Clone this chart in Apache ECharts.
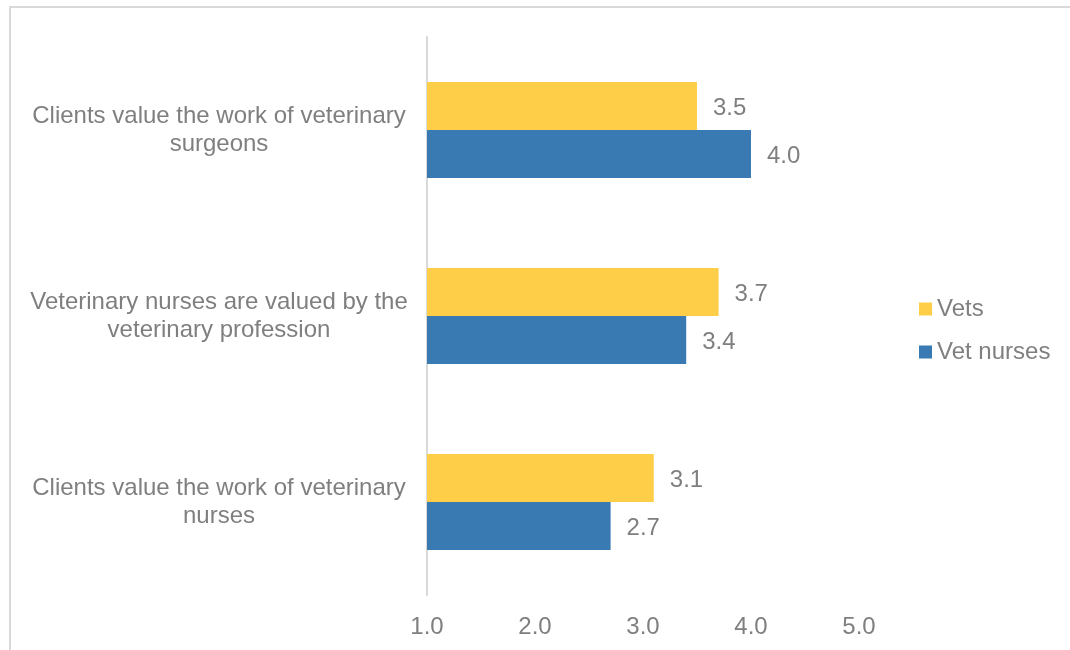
<!DOCTYPE html>
<html>
<head>
<meta charset="utf-8">
<script src="https://cdn.jsdelivr.net/npm/echarts@6/dist/echarts.min.js"></script>
<style>
  html, body { margin: 0; padding: 0; background: #ffffff; }
  #chart { width: 1070px; height: 650px; }
</style>
</head>
<body>
<div id="chart"></div>
<script>
// Survey statements, listed top to bottom
const categories = [
  'Clients value the work of veterinary\nsurgeons',
  'Veterinary nurses are valued by the\nveterinary profession',
  'Clients value the work of veterinary\nnurses'
];
const seriesNames = ['Vets', 'Vet nurses'];
const vetsValues = [3.5, 3.7, 3.1];
const vetNursesValues = [4.0, 3.4, 2.7];
const xTicks = [1, 5, 1]; // min, max, interval

const textGray = '#7f7f7f';
const fontFamily = '"Liberation Sans", Arial, sans-serif';
const fontSize = 24;

const chart = echarts.init(document.getElementById('chart'), null, { renderer: 'canvas' });

const valueLabel = {
  show: true,
  position: 'right',
  distance: 16,
  offset: [0, 2],
  color: textGray,
  fontSize: fontSize,
  fontFamily: fontFamily,
  formatter: p => Number(p.value).toFixed(1)
};

chart.setOption({
  backgroundColor: '#ffffff',
  animation: false,
  graphic: [{
    type: 'rect',
    shape: { x: 10, y: 7, width: 1090, height: 670 },
    style: { fill: 'none', stroke: '#d9d9d9', lineWidth: 2 },
    silent: true
  }],
  legend: {
    orient: 'vertical',
    left: 919,
    top: 297,
    padding: 0,
    itemGap: 19,
    itemWidth: 13,
    itemHeight: 13,
    icon: 'rect',
    data: seriesNames,
    textStyle: { color: textGray, fontSize: fontSize, fontFamily: fontFamily }
  },
  grid: { left: 427, right: 211, top: 37, bottom: 55, containLabel: false },
  xAxis: {
    type: 'value',
    min: xTicks[0],
    max: xTicks[1],
    interval: xTicks[2],
    axisLine: { show: false },
    axisTick: { show: false },
    splitLine: { show: false },
    axisLabel: {
      color: textGray,
      fontSize: fontSize,
      fontFamily: fontFamily,
      margin: 20,
      formatter: v => v.toFixed(1)
    }
  },
  yAxis: {
    type: 'category',
    inverse: true,
    data: categories,
    axisLine: { show: true, lineStyle: { color: '#d9d9d9', width: 2 } },
    axisTick: { show: false },
    axisLabel: {
      color: textGray,
      fontSize: fontSize,
      lineHeight: 28,
      fontFamily: fontFamily,
      align: 'center',
      margin: 208
    }
  },
  series: [
    {
      name: seriesNames[0],
      type: 'bar',
      data: vetsValues,
      barWidth: 48,
      barGap: '0%',
      itemStyle: { color: '#FFCE49' },
      label: valueLabel
    },
    {
      name: seriesNames[1],
      type: 'bar',
      data: vetNursesValues,
      barWidth: 48,
      barGap: '0%',
      itemStyle: { color: '#3A7AB2' },
      label: valueLabel
    }
  ]
});
</script>
</body>
</html>
